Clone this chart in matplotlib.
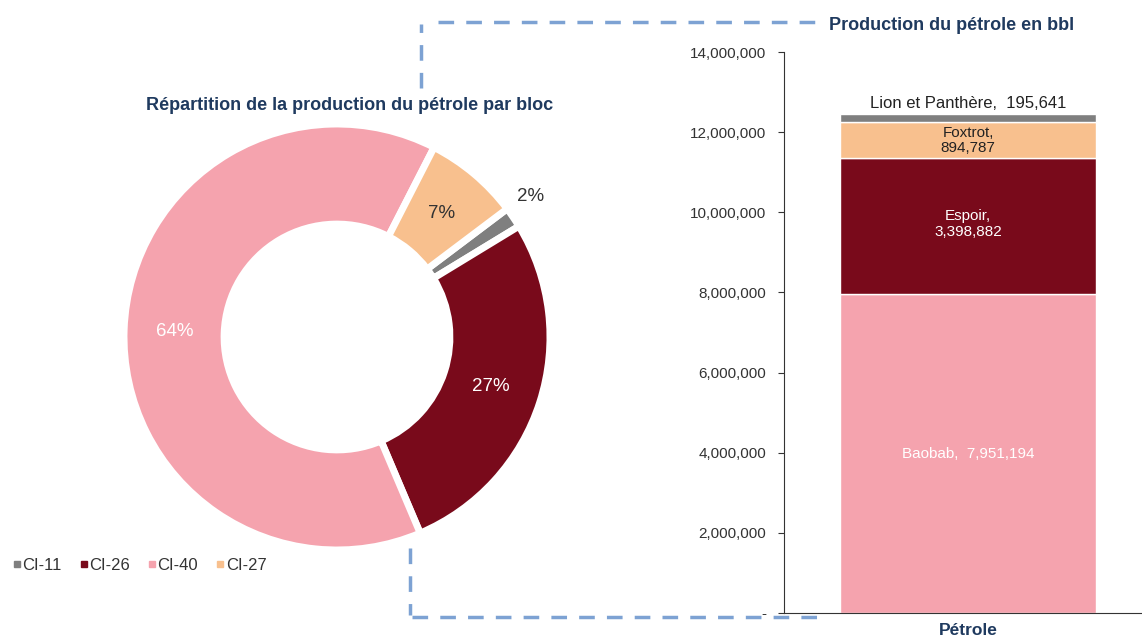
import matplotlib
matplotlib.use("Agg")
import matplotlib.pyplot as plt
from matplotlib.lines import Line2D
from matplotlib.ticker import FuncFormatter
import numpy as np

plt.rcParams['font.family'] = ['Liberation Sans', 'DejaVu Sans']

# ---- data ----
blocs = ["CI-11", "CI-26", "CI-40", "CI-27"]
bloc_values = [195641, 3398882, 7951194, 894787]
bloc_colors = ["#7F7F7F", "#790A1B", "#F5A3AE", "#F8C08E"]
pct_labels = ["2%", "27%", "64%", "7%"]

fields = ["Baobab", "Espoir", "Foxtrot", "Lion et Panthère"]
field_values = [7951194, 3398882, 894787, 195641]
field_colors = ["#F5A3AE", "#790A1B", "#F8C08E", "#7F7F7F"]
field_labels = ["Baobab,  7,951,194", "Espoir,\n3,398,882", "Foxtrot,\n894,787",
                "Lion et Panthère,  195,641"]
category = ["Pétrole"]
yticks = [0, 2000000, 4000000, 6000000, 8000000, 10000000, 12000000, 14000000]

title_color = "#1F3A5F"
W, H = 1142, 639
fig = plt.figure(figsize=(W / 100, H / 100), dpi=100)

# ---- donut ----
cx, cy, r = 337, 337, 213
axp = fig.add_axes([(cx - r) / W, (H - cy - r) / H, 2 * r / W, 2 * r / H])
wedges, _ = axp.pie(bloc_values, colors=bloc_colors, startangle=37, counterclock=False,
                    radius=1.0, wedgeprops=dict(width=0.47, edgecolor="white", linewidth=5))
axp.set_xlim(-1, 1)
axp.set_ylim(-1, 1)
axp.set_aspect("equal")
label_pos = {0: (1.02, "#333333"), 1: (0.76, "white"), 2: (0.76, "white"), 3: (0.76, "#333333")}
for i, w in enumerate(wedges):
    ang = np.deg2rad((w.theta1 + w.theta2) / 2)
    rr, col = label_pos[i]
    x, y = rr * np.cos(ang), rr * np.sin(ang)
    if i == 0:
        x, y = 0.91, 0.66
    axp.text(x, y, pct_labels[i], ha="center", va="center", fontsize=13.5, color=col)

fig.text(350 / W, 1 - 105 / H, "Répartition de la production du pétrole par bloc",
         ha="center", va="center", fontsize=13, fontweight="bold", color=title_color)

# legend
handles = [Line2D([], [], marker="s", linestyle="none", markersize=5,
                  markerfacecolor=c, markeredgecolor=c) for c in bloc_colors]
fig.legend(handles, blocs, loc="center left", bbox_to_anchor=(0.0, 1 - 565 / H),
           ncol=4, frameon=False, fontsize=12, handletextpad=0.05, columnspacing=1.0,
           handlelength=0.6, borderpad=0.2, labelcolor="#333333")

# ---- stacked bar ----
left_px, right_px, bot_px, top_px = 784, 1142, 613, 52
axb = fig.add_axes([left_px / W, 1 - bot_px / H, (right_px - left_px) / W, (bot_px - top_px) / H])
bottom = 0
for v, c in zip(field_values, field_colors):
    axb.bar(0, v, width=0.715, bottom=bottom, color=c, edgecolor="white", linewidth=1)
    bottom += v
axb.set_xlim(-0.514, 0.486)
axb.set_ylim(0, 14000000)
axb.set_yticks(yticks)
axb.yaxis.set_major_formatter(FuncFormatter(lambda v, p: "-" if v == 0 else f"{v:,.0f}"))
axb.tick_params(axis="y", labelsize=11, colors="#333333", length=4, pad=9)
axb.set_xticks([0])
axb.set_xticklabels(category)
axb.tick_params(axis="x", length=0, labelsize=12.5, pad=7)
for t in axb.get_xticklabels():
    t.set_fontweight("bold")
    t.set_color(title_color)
for s in ["top", "right"]:
    axb.spines[s].set_visible(False)
for s in ["left", "bottom"]:
    axb.spines[s].set_color("#333333")

# bar labels
cum = np.cumsum([0] + field_values)
axb.text(0, (cum[0] + cum[1]) / 2, field_labels[0], ha="center", va="center",
         fontsize=11, color="white")
axb.text(0, (cum[1] + cum[2]) / 2 + 50000, field_labels[1], ha="center", va="center",
         fontsize=11, color="white", linespacing=1.15)
axb.text(0, (cum[2] + cum[3]) / 2, field_labels[2], ha="center", va="center",
         fontsize=11, color="#222222", linespacing=1.05)
axb.text(0, cum[4] + 80000, field_labels[3], ha="center", va="bottom",
         fontsize=12, color="#222222")

fig.text(952 / W, 1 - 25 / H, "Production du pétrole en bbl", ha="center", va="center",
         fontsize=13, fontweight="bold", color=title_color)

# ---- dashed connector lines ----
dash_kw = dict(transform=fig.transFigure, color="#7DA2D3", linewidth=2.5,
               linestyle=(0, (4.5, 3.5)))
def px(x, y):
    return x / W, 1 - y / H
for (x0, y0), (x1, y1) in [((421, 88), (421, 24)), ((438, 22), (818, 22)),
                           ((410, 548), (410, 615)), ((412, 617), (820, 617))]:
    a, b = px(x0, y0)
    c, d = px(x1, y1)
    fig.add_artist(Line2D([a, c], [b, d], **dash_kw))

fig.savefig("out.png", dpi=100)
